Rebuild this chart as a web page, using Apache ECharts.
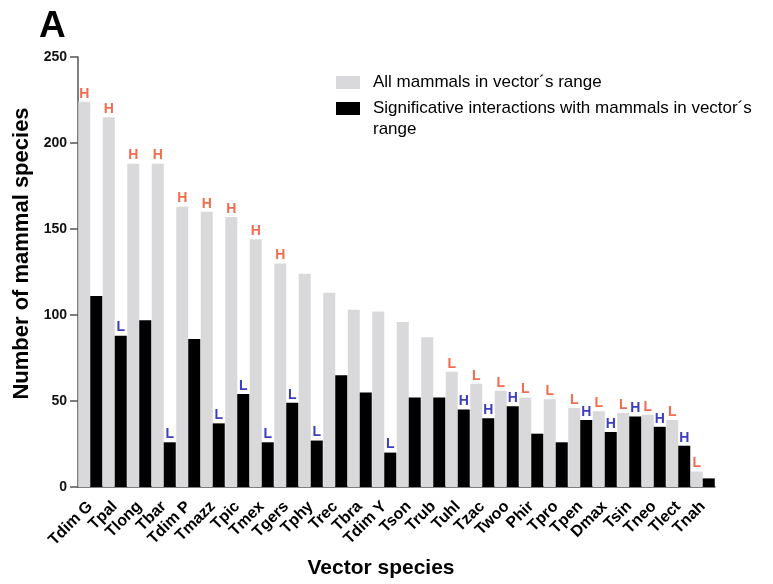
<!DOCTYPE html>
<html>
<head>
<meta charset="utf-8">
<script src="https://cdn.jsdelivr.net/npm/echarts@6/dist/echarts.min.js"></script>
<style>
html,body{margin:0;padding:0;background:#fff;}
#chart{width:773px;height:584px;}
</style>
</head>
<body>
<div id="chart"></div>
<script>
const categories = ['Tdim G','Tpal','Tlong','Tbar','Tdim P','Tmazz','Tpic','Tmex','Tgers','Tphy','Trec','Tbra','Tdim Y','Tson','Trub','Tuhl','Tzac','Twoo','Phir','Tpro','Tpen','Dmax','Tsin','Tneo','Tlect','Tnah'];
const allMammals = [224, 215, 188, 188, 163, 160, 157, 144, 130, 124, 113, 103, 102, 96, 87, 67, 60, 56, 52, 51, 46, 44, 43, 42, 39, 9];
const significant = [111, 88, 97, 26, 86, 37, 54, 26, 49, 27, 65, 55, 20, 52, 52, 45, 40, 47, 31, 26, 39, 32, 41, 35, 24, 5];
const allLabels = ['H','H','H','H','H','H','H','H','H','','','','','','','L','L','L','L','L','L','L','L','L','L','L'];
const sigLabels = ['','L','','L','','L','L','L','L','L','','','L','','','H','H','H','','','H','H','H','H','H',''];
const yTicks = [0, 50, 100, 150, 200, 250];
const seriesNames = ['All mammals in vector\u00b4s range', 'Significative interactions with mammals in vector\u00b4s range'];

const FONT = 'Liberation Sans, Arial, sans-serif';
const chart = echarts.init(document.getElementById('chart'), null, {renderer: 'canvas'});
chart.setOption({
  animation: false,
  backgroundColor: '#fff',
  title: {
    text: 'A', left: 34, top: 3,
    textStyle: {fontFamily: FONT, fontSize: 37, fontWeight: 'bold', color: '#000'}
  },
  legend: [{
    data: [seriesNames[0]],
    orient: 'vertical', left: 336, top: 74, padding: 0,
    itemWidth: 24, itemHeight: 13, icon: 'rect',
    formatter: function (n) { return '{a|' + n + '}'; },
    textStyle: {fontFamily: FONT, fontSize: 17, color: '#000',
      rich: {a: {fontFamily: FONT, fontSize: 17, color: '#000', lineHeight: 21, padding: [0, 0, 0, 8]}}}
  }, {
    data: [seriesNames[1]],
    orient: 'vertical', left: 336, top: 79, padding: 0,
    itemWidth: 24, itemHeight: 13, icon: 'rect',
    formatter: function (n) { return '{p| }\n{a|Significative interactions with mammals in vector\u00b4s}\n{a|range}'; },
    textStyle: {fontFamily: FONT, fontSize: 17, color: '#000',
      rich: {
        p: {fontSize: 17, lineHeight: 21},
        a: {fontFamily: FONT, fontSize: 17, color: '#000', lineHeight: 21, padding: [0, 0, 0, 8]}
      }}
  }],
  grid: {left: 78, top: 57, width: 637, height: 430, containLabel: false},
  xAxis: {
    type: 'category',
    data: categories,
    name: 'Vector species',
    nameLocation: 'middle',
    nameGap: 71,
    nameTextStyle: {fontFamily: FONT, fontSize: 21, fontWeight: 'bold', color: '#000', padding: [0, 31, 0, 0]},
    axisLine: {lineStyle: {color: '#555', width: 1.5}},
    axisTick: {alignWithLabel: true, length: 6, lineStyle: {color: '#222', width: 1.5}},
    axisLabel: {rotate: 45, margin: 17, interval: 0, fontFamily: FONT, fontSize: 16, fontWeight: 'bold', color: '#000'}
  },
  yAxis: {
    type: 'value',
    min: 0, max: 250, interval: 50,
    name: 'Number of mammal species',
    nameLocation: 'middle',
    nameGap: 44,
    nameTextStyle: {fontFamily: FONT, fontSize: 22, fontWeight: 'bold', color: '#000', padding: [0, 0, 0, 37]},
    axisLine: {show: true, lineStyle: {color: '#555', width: 1.5}},
    axisTick: {show: true, length: 8, lineStyle: {color: '#555', width: 1.5}},
    splitLine: {show: false},
    axisLabel: {margin: 11, fontFamily: FONT, fontSize: 14, fontWeight: 'bold', color: '#111',
      formatter: function (v) { return yTicks.indexOf(v) >= 0 ? String(v) : ''; }}
  },
  series: [{
    name: seriesNames[0],
    type: 'bar',
    data: allMammals,
    barWidth: 12,
    barGap: '0%',
    itemStyle: {color: '#d9d9db'},
    label: {
      show: true, position: 'top', distance: 1,
      fontFamily: FONT, fontSize: 14, fontWeight: 'bold', color: '#f26c4f',
      formatter: function (p) { return allLabels[p.dataIndex]; }
    }
  }, {
    name: seriesNames[1],
    type: 'bar',
    data: significant,
    barWidth: 12,
    barGap: '0%',
    itemStyle: {color: '#000'},
    label: {
      show: true, position: 'top', distance: 1,
      fontFamily: FONT, fontSize: 14, fontWeight: 'bold', color: '#3b3fbf',
      formatter: function (p) { return sigLabels[p.dataIndex]; }
    }
  }]
});
</script>
</body>
</html>
